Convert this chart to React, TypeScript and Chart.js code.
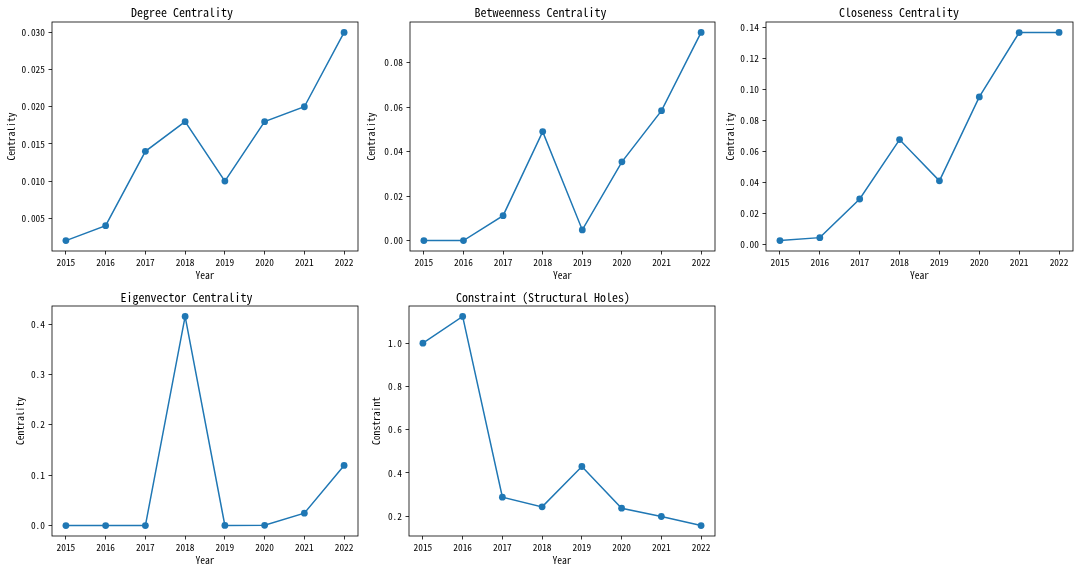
import React, { useEffect, useRef } from "react";
import { Chart, registerables } from "chart.js";

Chart.register(...registerables);

// ---------- data ----------
const years = [2015, 2016, 2017, 2018, 2019, 2020, 2021, 2022];
const degreeValues = [0.002, 0.004, 0.014, 0.018, 0.01, 0.018, 0.02, 0.03];
const betweennessValues = [0, 0, 0.0112, 0.049, 0.0048, 0.0354, 0.0584, 0.0936];
const closenessValues = [0.0024, 0.0043, 0.0292, 0.0675, 0.0409, 0.095, 0.1365, 0.1366];
const eigenvectorValues = [0, 0, 0, 0.4153, 0.0003, 0.0005, 0.0245, 0.1194];
const constraintValues = [1.0, 1.1233, 0.2879, 0.2432, 0.4297, 0.237, 0.1985, 0.1568];

const degreeTicks = [0.005, 0.01, 0.015, 0.02, 0.025, 0.03];
const betweennessTicks = [0, 0.02, 0.04, 0.06, 0.08];
const closenessTicks = [0, 0.02, 0.04, 0.06, 0.08, 0.1, 0.12, 0.14];
const eigenvectorTicks = [0, 0.1, 0.2, 0.3, 0.4];
const constraintTicks = [0.2, 0.4, 0.6, 0.8, 1.0];

const panelTitles = [
  "Degree Centrality",
  "Betweenness Centrality",
  "Closeness Centrality",
  "Eigenvector Centrality",
  "Constraint (Structural Holes)",
];
const yAxisLabels = ["Centrality", "Centrality", "Centrality", "Centrality", "Constraint"];
const xAxisLabel = "Year";

// ---------- layout / style ----------
const FONT = "'Noto Sans Mono CJK SC', 'DejaVu Sans Mono', monospace";
const BLUE = "#1f77b4";
const TITLE_FONT = 12;
const TICK_FONT = 9.4;
const LABEL_FONT = 9.6;
const TITLE_H = 18;
const X_H = 30;

type Box = { L: number; T: number; R: number; B: number; yOff: number; tGap: number };
type Spec = { title: string; yLabel: string; values: number[]; ticks: number[]; decimals: number; box: Box };

const specs: Spec[] = [
  { title: panelTitles[0], yLabel: yAxisLabels[0], values: degreeValues, ticks: degreeTicks, decimals: 3, box: { L: 52, T: 22, R: 358, B: 251, yOff: 40, tGap: 10 } },
  { title: panelTitles[1], yLabel: yAxisLabels[1], values: betweennessValues, ticks: betweennessTicks, decimals: 2, box: { L: 410, T: 22, R: 715, B: 251, yOff: 38, tGap: 10 } },
  { title: panelTitles[2], yLabel: yAxisLabels[2], values: closenessValues, ticks: closenessTicks, decimals: 2, box: { L: 766, T: 22, R: 1073, B: 251, yOff: 35, tGap: 10 } },
  { title: panelTitles[3], yLabel: yAxisLabels[3], values: eigenvectorValues, ticks: eigenvectorTicks, decimals: 1, box: { L: 52, T: 306, R: 358, B: 536, yOff: 31, tGap: 9 } },
  { title: panelTitles[4], yLabel: yAxisLabels[4], values: constraintValues, ticks: constraintTicks, decimals: 1, box: { L: 409, T: 306, R: 715, B: 536, yOff: 32, tGap: 9 } },
];

const spinePlugin = {
  id: "spines",
  afterDraw(chart: any) {
    const { ctx, chartArea } = chart;
    const { left, top, right, bottom } = chartArea;
    ctx.save();
    ctx.strokeStyle = "#000";
    ctx.lineWidth = 0.8;
    ctx.strokeRect(left, top, right - left, bottom - top);
    ctx.restore();
  },
};

function Panel({ spec }: { spec: Spec }) {
  const ref = useRef<HTMLCanvasElement>(null);
  const labelLH = LABEL_FONT * 1.2;
  const yW = Math.round(spec.box.yOff + labelLH / 2);

  useEffect(() => {
    if (!ref.current) return;
    const vals = spec.values;
    const vMin = Math.min(...vals);
    const vMax = Math.max(...vals);
    const m = (vMax - vMin) * 0.05;
    const xMin = years[0];
    const xMax = years[years.length - 1];
    const xm = (xMax - xMin) * 0.05;

    const titleLH = TITLE_FONT * 1.2;
    const padTop = Math.max(0, TITLE_H - spec.box.tGap - titleLH / 2);
    const padBottom = Math.max(0, TITLE_H - titleLH - padTop);

    const chart = new Chart(ref.current, {
      type: "line",
      data: {
        datasets: [
          {
            data: years.map((x, i) => ({ x, y: vals[i] })),
            borderColor: BLUE,
            backgroundColor: BLUE,
            borderWidth: 1.5,
            pointRadius: 3.4,
            pointBackgroundColor: BLUE,
            pointBorderColor: BLUE,
            pointBorderWidth: 0,
            tension: 0,
            fill: false,
          },
        ],
      },
      options: {
        animation: false,
        responsive: true,
        maintainAspectRatio: false,
        devicePixelRatio: 1,
        layout: { padding: { left: 0, top: 0, right: yW, bottom: 0 } },
        plugins: {
          legend: { display: false },
          tooltip: { enabled: false },
          title: {
            display: true,
            text: spec.title,
            color: "#000",
            font: { family: FONT, size: TITLE_FONT, weight: "normal", lineHeight: 1.2 },
            padding: { top: padTop, bottom: padBottom },
          },
        },
        scales: {
          x: {
            type: "linear",
            min: xMin - xm,
            max: xMax + xm,
            afterBuildTicks: (scale: any) => {
              scale.ticks = years.map((v) => ({ value: v }));
            },
            afterFit: (scale: any) => {
              scale.height = X_H;
            },
            ticks: {
              color: "#000",
              font: { family: FONT, size: TICK_FONT },
              padding: 2,
              maxRotation: 0,
              autoSkip: false,
              callback: (v: any) => String(v),
            },
            grid: { display: true, drawOnChartArea: false, drawTicks: true, tickLength: 3.5, tickColor: "#000", tickWidth: 0.8 },
            border: { display: false },
            title: {
              display: true,
              text: xAxisLabel,
              color: "#000",
              font: { family: FONT, size: LABEL_FONT, lineHeight: 1.2 },
              padding: { top: 0, bottom: 0 },
            },
          },
          y: {
            type: "linear",
            min: vMin - m,
            max: vMax + m,
            afterBuildTicks: (scale: any) => {
              scale.ticks = spec.ticks.map((v) => ({ value: v }));
            },
            afterFit: (scale: any) => {
              scale.width = yW;
            },
            ticks: {
              color: "#000",
              font: { family: FONT, size: TICK_FONT },
              padding: 3.5,
              autoSkip: false,
              callback: (v: any) => Number(v).toFixed(spec.decimals),
            },
            grid: { display: true, drawOnChartArea: false, drawTicks: true, tickLength: 3.5, tickColor: "#000", tickWidth: 0.8 },
            border: { display: false },
            title: {
              display: true,
              text: spec.yLabel,
              color: "#000",
              font: { family: FONT, size: LABEL_FONT, lineHeight: 1.2 },
              padding: { top: 0, bottom: 0 },
            },
          },
        },
      } as any,
      plugins: [spinePlugin],
    });
    return () => chart.destroy();
  }, []);

  const { L, T, R, B } = spec.box;
  const style: React.CSSProperties = {
    position: "absolute",
    left: L - yW,
    top: T - TITLE_H,
    width: R - L + 2 * yW,
    height: TITLE_H + (B - T) + X_H,
  };
  return (
    <div style={style}>
      <canvas ref={ref} />
    </div>
  );
}

export default function App() {
  return (
    <div style={{ position: "absolute", left: 0, top: 0, width: 1080, height: 572, background: "#fff", overflow: "hidden" }}>
      {specs.map((s, i) => (
        <Panel key={i} spec={s} />
      ))}
    </div>
  );
}
